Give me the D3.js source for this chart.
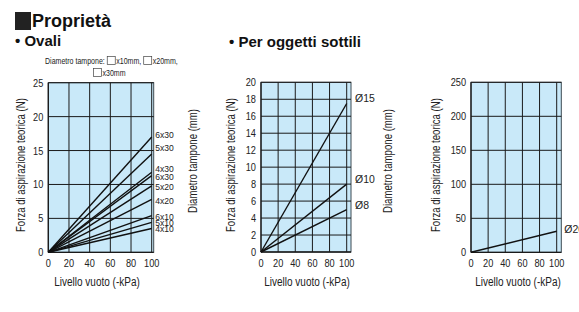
<!DOCTYPE html>
<html>
<head>
<meta charset="utf-8">
<script src="https://cdn.jsdelivr.net/npm/d3@7"></script>
<style>
  body { margin: 0; background: #fff; }
  svg { display: block; }
  .narrow { font-family: "Liberation Sans", Arial, sans-serif; }
  .bold { font-family: "Liberation Sans", Arial, sans-serif; font-weight: bold; }
</style>
</head>
<body>
<svg id="chart" width="579" height="312"></svg>
<script>
// --- data
const vacuumKPa = [0, 100];
const xTicks = [0, 20, 40, 60, 80, 100];

const ovaliLabels = ['6x30', '5x30', '4x30', '6x30', '5x20', '4x20', '6x10', '5x10', '4x10'];
const ovaliForce = [
  [0, 17.0], [0, 14.5], [0, 11.8], [0, 11.3], [0, 9.8],
  [0, 7.8], [0, 5.4], [0, 4.4], [0, 3.5]
];
const ovaliYTicks = [0, 5, 10, 15, 20, 25];

const sottiliLabels = ['Ø15', 'Ø10', 'Ø8'];
const sottiliForce = [[0, 17.5], [0, 8], [0, 5]];
const sottiliYTicks = [0, 2, 4, 6, 8, 10, 12, 14, 16, 18, 20];

const grandiLabels = ['Ø20'];
const grandiForce = [[0, 31]];
const grandiYTicks = [0, 50, 100, 150, 200, 250];

// --- layout
const FILL = '#c9e9f9';
const INK = '#1a1a1a';
const NARROW = 0.8; // no condensed face installed, squeeze the glyphs instead
const svg = d3.select('#chart');

// squeeze text horizontally to mimic a condensed face
function condense(sel, k = NARROW) {
  sel.each(function () {
    const len = this.getComputedTextLength();
    d3.select(this).attr('textLength', len * k).attr('lengthAdjust', 'spacingAndGlyphs');
  });
  return sel;
}

// header
svg.append('rect').attr('x', 15).attr('y', 12).attr('width', 16).attr('height', 18).attr('fill', '#222');
svg.append('text').attr('class', 'bold').attr('x', 32).attr('y', 27)
  .attr('font-size', 18).attr('fill', '#111').text('Proprietà');
svg.append('text').attr('class', 'bold').attr('x', 15).attr('y', 46)
  .attr('font-size', 15).attr('fill', '#111').text('• Ovali');
svg.append('text').attr('class', 'bold').attr('x', 229).attr('y', 47)
  .attr('font-size', 15).attr('fill', '#111').text('• Per oggetti sottili');

// "Diametro tampone" note with little boxes
function noteLine(x, y, parts) {
  let cx = x;
  parts.forEach(p => {
    if (p === 'box') {
      svg.append('rect').attr('x', cx + 0.5).attr('y', y - 7.5)
        .attr('width', 8).attr('height', 8)
        .attr('fill', 'none').attr('stroke', '#444').attr('stroke-width', 0.7);
      cx += 9.5;
    } else {
      const t = svg.append('text').attr('class', 'narrow').attr('x', cx).attr('y', y)
        .attr('font-size', 9.5).attr('fill', '#222').text(p.replace(/ /g, '\u00a0'));
      const len = t.node().getComputedTextLength() * 0.74;
      t.attr('textLength', len).attr('lengthAdjust', 'spacingAndGlyphs');
      cx += len;
    }
  });
}
noteLine(45, 64, ['Diametro tampone: ', 'box', 'x10mm, ', 'box', 'x20mm,']);
noteLine(93, 76, ['box', 'x30mm']);

function drawPanel(cfg) {
  const x = d3.scaleLinear().domain([0, 100]).range([cfg.left, cfg.x100]);
  const y = d3.scaleLinear().domain([0, cfg.yMax]).range([cfg.bottom, cfg.top]);
  const g = svg.append('g');

  g.append('rect')
    .attr('x', cfg.left).attr('y', cfg.top)
    .attr('width', cfg.right - cfg.left).attr('height', cfg.bottom - cfg.top)
    .attr('fill', FILL).attr('stroke', '#3c4a52').attr('stroke-width', 1);

  // grid
  g.selectAll('.gx').data(xTicks.filter(d => d > 0)).enter().append('line')
    .attr('x1', d => x(d)).attr('x2', d => x(d))
    .attr('y1', cfg.top).attr('y2', cfg.bottom)
    .attr('stroke', INK).attr('stroke-width', 1);
  g.selectAll('.gy').data(cfg.yTicks.filter(d => d > 0)).enter().append('line')
    .attr('x1', cfg.left).attr('x2', cfg.right)
    .attr('y1', d => y(d)).attr('y2', d => y(d))
    .attr('stroke', INK).attr('stroke-width', 1);
  g.append('line').attr('x1', cfg.left).attr('x2', cfg.left)
    .attr('y1', cfg.top).attr('y2', cfg.bottom).attr('stroke', INK).attr('stroke-width', 1.3);
  g.append('line').attr('x1', cfg.left).attr('x2', cfg.right)
    .attr('y1', cfg.bottom).attr('y2', cfg.bottom).attr('stroke', INK).attr('stroke-width', 1.3);

  // tick labels
  condense(g.selectAll('.tx').data(xTicks).enter().append('text')
    .attr('class', 'narrow').attr('font-size', 11.5).attr('fill', '#222')
    .attr('text-anchor', 'middle')
    .attr('x', d => x(d)).attr('y', cfg.bottom + 15)
    .text(d => d));
  condense(g.selectAll('.ty').data(cfg.yTicks).enter().append('text')
    .attr('class', 'narrow').attr('font-size', 11.5).attr('fill', '#222')
    .attr('text-anchor', 'end')
    .attr('x', cfg.left - 5).attr('y', d => y(d)).attr('dy', '0.35em')
    .text(d => d));

  // series
  const line = d3.line().x((d, i) => x(vacuumKPa[i])).y(d => y(d));
  g.selectAll('.series').data(cfg.series).enter().append('path')
    .attr('d', d => line(d))
    .attr('fill', 'none').attr('stroke', '#111').attr('stroke-width', 1.4);

  condense(g.selectAll('.lbl').data(cfg.series).enter().append('text')
    .attr('font-family', '"Liberation Sans", Arial, sans-serif')
    .attr('font-size', cfg.labelSize).attr('fill', '#222')
    .attr('x', cfg.right + cfg.labelGap)
    .attr('y', (d, i) => y(d[d.length - 1]) + cfg.labelNudge[i])
    .attr('dy', '0.35em')
    .text((d, i) => cfg.labels[i]), 0.95);

  // axis titles
  condense(g.append('text').attr('class', 'narrow').attr('font-size', 12).attr('fill', '#222')
    .attr('transform', `translate(${cfg.yTitleX},${cfg.yTitleBottom}) rotate(-90)`)
    .text('Forza di aspirazione teorica (N)'));
  if (cfg.rTitleX) {
    condense(g.append('text').attr('class', 'narrow').attr('font-size', 12).attr('fill', '#222')
      .attr('text-anchor', 'middle')
      .attr('transform', `translate(${cfg.rTitleX},${cfg.rTitleY}) rotate(-90)`)
      .text('Diametro tampone (mm)'));
  }
  condense(g.append('text').attr('class', 'narrow').attr('font-size', 12.5).attr('fill', '#222')
    .attr('text-anchor', 'middle')
    .attr('x', cfg.xTitleX).attr('y', 286)
    .text('Livello vuoto (-kPa)'));
}

drawPanel({
  left: 48.3, x100: 151.7, right: 153.7, top: 82.7, bottom: 252.3,
  yMax: 25, yTicks: ovaliYTicks, series: ovaliForce, labels: ovaliLabels,
  labelSize: 9, labelGap: 1.5, labelNudge: [-2, -6, -3, 1, 1, 1.5, 1, 0.5, 0.5],
  yTitleX: 25, yTitleBottom: 232, rTitleX: 197, rTitleY: 161, xTitleX: 97
});
drawPanel({
  left: 261, x100: 346.7, right: 351, top: 82.3, bottom: 252,
  yMax: 20, yTicks: sottiliYTicks, series: sottiliForce, labels: sottiliLabels,
  labelSize: 11, labelGap: 4, labelNudge: [-5.5, -5, -4.5],
  yTitleX: 235, yTitleBottom: 232, rTitleX: 392, rTitleY: 161, xTitleX: 307
});
drawPanel({
  left: 471, x100: 556.7, right: 561.3, top: 82.3, bottom: 252.3,
  yMax: 250, yTicks: grandiYTicks, series: grandiForce, labels: grandiLabels,
  labelSize: 11, labelGap: 3, labelNudge: [-2],
  yTitleX: 440, yTitleBottom: 232, rTitleX: null, xTitleX: 518
});
</script>
</body>
</html>
